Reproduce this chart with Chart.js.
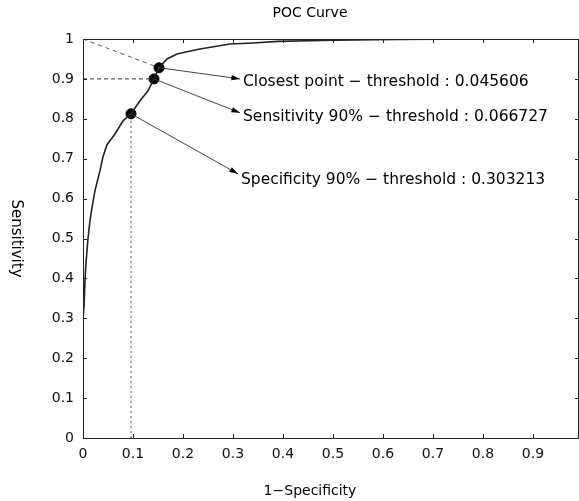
<!DOCTYPE html>
<html>
<head>
<meta charset="utf-8">
<script src="https://cdn.jsdelivr.net/npm/chart.js@4.4.1/dist/chart.umd.min.js"></script>
<style>
  html, body { margin: 0; padding: 0; background: #fff; }
  #wrap { width: 579px; height: 501px; }
</style>
</head>
<body>
<div id="wrap"><canvas id="rocChart"></canvas></div>
<script>
// ROC curve (1-specificity, sensitivity)
var rocX = [0, 0, 0.002, 0.004, 0.006, 0.01, 0.014, 0.018, 0.024, 0.034, 0.04, 0.048, 0.064, 0.08, 0.096, 0.114, 0.13, 0.142, 0.152, 0.168, 0.188, 0.208, 0.234, 0.294, 0.34, 0.39, 0.5, 0.63, 0.8, 1]
var rocY = [0, 0.3, 0.33, 0.395, 0.44, 0.5, 0.545, 0.578, 0.62, 0.67, 0.705, 0.735, 0.762, 0.795, 0.8125, 0.845, 0.87, 0.9, 0.928, 0.95, 0.9625, 0.968, 0.975, 0.9875, 0.99, 0.994, 0.997, 0.999, 1, 1]

// marked points: closest, sensitivity 90%, specificity 90%
var markNames = ['Closest point', 'Sensitivity 90%', 'Specificity 90%']
var markX = [0.152, 0.142, 0.096]
var markY = [0.928, 0.9, 0.8125]
var thresholds = ['0.045606', '0.066727', '0.303213']

// arrow ends (where the labels start)
var arrowX = [0.314, 0.314, 0.31]
var arrowY = [0.9, 0.815, 0.662]

var xTicks = [0, 0.1, 0.2, 0.3, 0.4, 0.5, 0.6, 0.7, 0.8, 0.9]
var yTicks = [0, 0.1, 0.2, 0.3, 0.4, 0.5, 0.6, 0.7, 0.8, 0.9, 1]

var FONT = '"DejaVu Sans", sans-serif'

function pts(xs, ys) {
    var out = []
    for (var i = 0; i < xs.length; i++) {
        out.push({x: xs[i], y: ys[i]})
    }
    return out
}

var datasets = [
    {   // dashed diagonal from (0,1) to closest point
        data: [{x: 0, y: 1}, {x: markX[0], y: markY[0]}],
        showLine: true, borderColor: '#555', borderWidth: 1, borderDash: [4, 4], pointRadius: 0
    },
    {   // horizontal dashed at sensitivity 90%
        data: [{x: 0, y: markY[1]}, {x: markX[1], y: markY[1]}],
        showLine: true, borderColor: '#333', borderWidth: 1, borderDash: [4, 3], pointRadius: 0
    },
    {   // vertical dotted at specificity 90%
        data: [{x: markX[2], y: 0}, {x: markX[2], y: markY[2]}],
        showLine: true, borderColor: '#555', borderWidth: 1, borderDash: [2, 3], pointRadius: 0
    },
    {
        label: 'ROC',
        data: pts(rocX, rocY),
        showLine: true, borderColor: '#222', borderWidth: 1.6, pointRadius: 0, tension: 0
    }
]
// arrow shafts
for (var i = 0; i < markX.length; i++) {
    datasets.push({
        data: [{x: markX[i], y: markY[i]}, {x: arrowX[i], y: arrowY[i]}],
        showLine: true, borderColor: '#444', borderWidth: 1, pointRadius: 0
    })
}
datasets.push({
    label: 'marks',
    data: pts(markX, markY),
    showLine: false,
    pointRadius: 5, pointBackgroundColor: '#000', pointBorderColor: '#000'
})

var decor = {
    id: 'decor',
    afterDatasetsDraw: function(chart) {
        var ctx = chart.ctx
        var a = chart.chartArea
        var xs = chart.scales.x
        var ys = chart.scales.y
        ctx.save()
        // frame
        ctx.strokeStyle = '#222'
        ctx.lineWidth = 1
        ctx.strokeRect(a.left + 0.5, a.top + 0.5, a.right - a.left - 1, a.bottom - a.top)
        // inward ticks
        ctx.beginPath()
        xTicks.forEach(function(v) {
            var px = Math.round(xs.getPixelForValue(v)) + 0.5
            ctx.moveTo(px, a.bottom); ctx.lineTo(px, a.bottom - 4)
            ctx.moveTo(px, a.top); ctx.lineTo(px, a.top + 4)
        })
        yTicks.forEach(function(v) {
            var py = Math.round(ys.getPixelForValue(v)) + 0.5
            ctx.moveTo(a.left, py); ctx.lineTo(a.left + 4, py)
            ctx.moveTo(a.right, py); ctx.lineTo(a.right - 4, py)
        })
        ctx.stroke()

        // arrow heads + labels
        ctx.fillStyle = '#000'
        for (var i = 0; i < markX.length; i++) {
            var x0 = xs.getPixelForValue(markX[i]), y0 = ys.getPixelForValue(markY[i])
            var x1 = xs.getPixelForValue(arrowX[i]), y1 = ys.getPixelForValue(arrowY[i])
            var ang = Math.atan2(y1 - y0, x1 - x0)
            ctx.beginPath()
            ctx.moveTo(x1, y1)
            ctx.lineTo(x1 - 9 * Math.cos(ang - 0.3), y1 - 9 * Math.sin(ang - 0.3))
            ctx.lineTo(x1 - 9 * Math.cos(ang + 0.3), y1 - 9 * Math.sin(ang + 0.3))
            ctx.closePath()
            ctx.fill()
            ctx.font = '15.5px ' + FONT
            ctx.textAlign = 'left'
            ctx.textBaseline = 'middle'
            ctx.fillText(markNames[i] + ' \u2212 threshold : ' + thresholds[i], x1 + 3, y1 + 3 + i * 1.5)
        }

        // titles
        ctx.textAlign = 'center'
        ctx.textBaseline = 'middle'
        ctx.font = '14px ' + FONT
        ctx.fillText('POC Curve', 310, 13)
        ctx.fillText('1\u2212Specificity', 310, 491)
        ctx.font = '15px ' + FONT
        ctx.translate(16, (a.top + a.bottom) / 2)
        ctx.rotate(Math.PI / 2)
        ctx.fillText('Sensitivity', 0, 0)
        ctx.restore()
    }
}

var rocChart = new Chart(document.getElementById('rocChart'), {
    type: 'scatter',
    data: {datasets: datasets},
    options: {
        responsive: true,
        maintainAspectRatio: false,
        animation: false,
        layout: {autoPadding: false, padding: {top: 39, right: 0, bottom: 0, left: 0}},
        plugins: {legend: {display: false}, tooltip: {enabled: false}},
        scales: {
            x: {
                type: 'linear', min: 0, max: 0.992,
                afterFit: function(s) { s.height = 63; s.paddingRight = 0; s.paddingLeft = 0 },
                grid: {display: false, drawTicks: false},
                border: {display: false},
                ticks: {
                    stepSize: 0.1, includeBounds: false, padding: 8, maxRotation: 0,
                    color: '#111', font: {family: FONT, size: 14},
                    callback: function(v) { return xTicks.indexOf(+v.toFixed(1)) >= 0 ? String(+v.toFixed(1)) : '' }
                }
            },
            y: {
                type: 'linear', min: 0, max: 1,
                afterFit: function(s) { s.width = 83; s.paddingTop = 0; s.paddingBottom = 0 },
                grid: {display: false, drawTicks: false},
                border: {display: false},
                ticks: {
                    stepSize: 0.1, padding: 9,
                    color: '#111', font: {family: FONT, size: 14},
                    callback: function(v) { return String(+v.toFixed(1)) }
                }
            }
        }
    },
    plugins: [decor]
})
</script>
</body>
</html>
